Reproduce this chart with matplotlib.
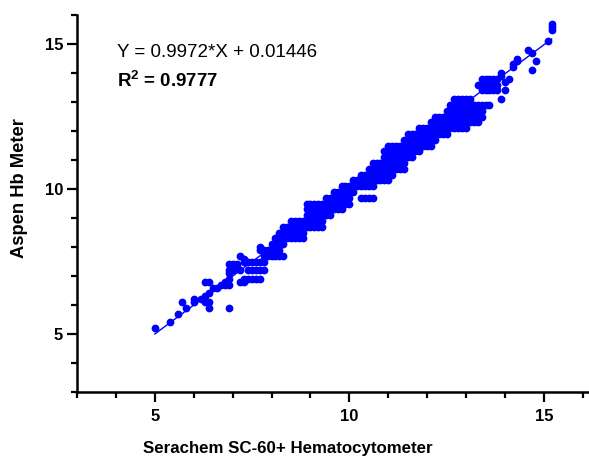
import matplotlib
matplotlib.use("Agg")
import matplotlib.pyplot as plt
from matplotlib.ticker import MultipleLocator

plt.rcParams["font.family"] = ["Liberation Sans", "DejaVu Sans"]
plt.rcParams["mathtext.fontset"] = "custom"
plt.rcParams["mathtext.rm"] = "Liberation Sans"
plt.rcParams["mathtext.bf"] = "Liberation Sans:bold"

# dense band, read row by row: (y value, x values on that row)
band_rows = [
    (7.5, [7.3, 7.4, 7.5, 7.6, 7.7, 7.8]),
    (7.7, [7.8, 7.9, 8.0, 8.1, 8.2, 8.3]),
    (7.9, [7.7, 7.8, 7.9, 8.0, 8.1, 8.2]),
    (8.1, [8.0, 8.1, 8.2, 8.3]),
    (8.3, [8.1, 8.2, 8.3, 8.4, 8.5, 8.6, 8.7, 8.8]),
    (8.5, [8.2, 8.3, 8.4, 8.5, 8.6, 8.7, 8.8]),
    (8.7, [8.3, 8.4, 8.5, 8.6, 8.7, 8.8, 8.9, 9.0, 9.1, 9.2, 9.3]),
    (8.9, [8.5, 8.6, 8.7, 8.8, 8.9, 9.0, 9.1, 9.2, 9.3]),
    (9.1, [8.9, 9.0, 9.1, 9.2, 9.3, 9.4, 9.5]),
    (9.3, [8.9, 9.0, 9.1, 9.2, 9.3, 9.4, 9.5, 9.6, 9.7, 9.8]),
    (9.5, [8.9, 9.0, 9.1, 9.2, 9.3, 9.4, 9.5, 9.6, 9.7, 9.8, 9.9, 10.0]),
    (9.7, [9.4, 9.5, 9.6, 9.7, 9.8, 9.9, 10.0, 10.3, 10.4, 10.5, 10.6]),
    (9.9, [9.6, 9.7, 9.8, 9.9, 10.0, 10.1]),
    (10.1, [9.8, 9.9, 10.0, 10.1, 10.2, 10.3, 10.4, 10.5, 10.6]),
    (10.3, [10.1, 10.2, 10.3, 10.4, 10.5, 10.6, 10.7, 10.8, 10.9, 11.0]),
    (10.5, [10.3, 10.4, 10.5, 10.6, 10.7, 10.8, 10.9, 11.0, 11.1]),
    (10.7, [10.5, 10.6, 10.7, 10.8, 10.9, 11.0, 11.1, 11.2, 11.3, 11.4]),
    (10.9, [10.6, 10.7, 10.8, 10.9, 11.0, 11.1, 11.2, 11.3, 11.4]),
    (11.1, [10.9, 11.0, 11.1, 11.2, 11.3, 11.4, 11.5, 11.6]),
    (11.3, [10.9, 11.0, 11.1, 11.2, 11.3, 11.4, 11.5, 11.6, 11.7, 11.8]),
    (11.5, [11.0, 11.1, 11.2, 11.3, 11.4, 11.5, 11.6, 11.7, 11.8, 11.9, 12.0, 12.1]),
    (11.7, [11.4, 11.5, 11.6, 11.7, 11.8, 11.9, 12.0, 12.1, 12.2]),
    (11.9, [11.5, 11.6, 11.7, 11.8, 11.9, 12.0, 12.1, 12.2, 12.3, 12.4, 12.5]),
    (12.1, [11.8, 11.9, 12.0, 12.1, 12.2, 12.3, 12.4, 12.5, 12.6, 12.7, 12.8, 12.9, 13.0]),
    (12.3, [12.1, 12.2, 12.3, 12.4, 12.5, 12.6, 12.7, 12.8, 12.9, 13.0, 13.1, 13.2, 13.3]),
    (12.5, [12.2, 12.3, 12.4, 12.5, 12.6, 12.7, 12.8, 12.9, 13.0, 13.1, 13.2, 13.3, 13.4]),
    (12.7, [12.5, 12.6, 12.7, 12.8, 12.9, 13.0, 13.1, 13.2, 13.3, 13.4]),
    (12.9, [12.6, 12.7, 12.8, 12.9, 13.0, 13.1, 13.2, 13.3, 13.4, 13.5, 13.6]),
    (13.1, [12.7, 12.8, 12.9, 13.0, 13.1]),
    (13.4, [13.4, 13.5, 13.6, 13.7, 13.8]),
    (13.6, [13.3, 13.4, 13.5, 13.6, 13.7, 13.8]),
    (13.8, [13.4, 13.5, 13.6, 13.7, 13.8]),
]

# scattered points at the low and high ends
low_x = [5.0, 5.4, 5.6, 5.7, 5.8, 6.0, 6.0, 6.2, 6.3, 6.4, 6.4, 6.9, 6.3, 6.4,
         6.3, 6.4, 6.5, 6.6, 6.7, 6.8, 6.9, 6.8, 6.9, 6.9, 6.9, 7.0, 6.9, 7.0,
         7.1, 7.2, 7.1, 7.2, 7.3, 7.7,
         7.4, 7.5, 7.6, 7.7, 7.8, 7.3, 7.4, 7.5, 7.6, 7.7, 7.2, 7.3]
low_y = [5.2, 5.4, 5.7, 6.1, 5.9, 6.2, 6.1, 6.2, 6.1, 6.1, 5.9, 5.9, 6.3, 6.4,
         6.8, 6.8, 6.6, 6.6, 6.7, 6.7, 6.7, 6.8, 6.9, 7.1, 7.2, 7.2, 7.4, 7.4,
         7.4, 7.7, 7.3, 7.2, 7.6, 8.0,
         7.2, 7.2, 7.2, 7.2, 7.2, 6.9, 6.9, 6.9, 6.9, 6.9, 6.8, 6.8]
high_x = [13.9, 13.9, 14.1, 14.0, 14.0, 13.9, 14.2, 14.2, 14.3, 14.3,
          14.6, 14.7, 14.8, 14.7, 15.1, 15.2, 15.2, 15.2]
high_y = [14.0, 13.9, 13.8, 13.7, 13.4, 13.1, 14.2, 14.3, 14.5, 14.4,
          14.8, 14.7, 14.4, 14.1, 15.1, 15.5, 15.6, 15.7]

slope = 0.9972
intercept = 0.01446
r2 = 0.9777

xs = list(low_x) + list(high_x)
ys = list(low_y) + list(high_y)
for yv, row in band_rows:
    xs += row
    ys += [yv] * len(row)

fig = plt.figure(figsize=(5.89, 4.57), dpi=100)
ax = fig.add_axes([77 / 589, 65 / 457, 512 / 589, 377 / 457])

blue = "#0000FF"
ax.plot(xs, ys, "o", color=blue, markersize=5.6, markeredgewidth=0)

x0, x1 = min(xs), max(xs)
ax.plot([x0, x1], [slope * x0 + intercept, slope * x1 + intercept],
        color=blue, linewidth=1.0)

ax.set_xlim(3, 16.16)
ax.set_ylim(3, 16)
ax.xaxis.set_major_locator(MultipleLocator(5))
ax.xaxis.set_minor_locator(MultipleLocator(1))
ax.yaxis.set_major_locator(MultipleLocator(5))
ax.yaxis.set_minor_locator(MultipleLocator(1))

for s in ["top", "right"]:
    ax.spines[s].set_visible(False)
for s in ["left", "bottom"]:
    ax.spines[s].set_linewidth(1.8)

ax.tick_params(which="major", direction="out", length=7, width=1.6,
               labelsize=12)
ax.tick_params(which="minor", direction="out", length=4.5, width=1.6)
ax.tick_params(axis="x", which="major", pad=5.5)
ax.tick_params(axis="y", which="major", pad=3)
for lab in ax.get_xticklabels() + ax.get_yticklabels():
    lab.set_fontweight("bold")

ax.text(4.03, 14.69, "Y = %.4f*X + %.5f" % (slope, intercept),
        fontsize=13.5, va="center", ha="left")
ax.text(4.03, 13.72, r"$\mathbf{R^2}$ = %.4f" % r2,
        fontsize=13.5, fontweight="bold", va="center", ha="left")

fig.text(288 / 589, 1 - 448 / 457, "Serachem SC-60+ Hematocytometer",
         fontsize=12.2, fontweight="bold", ha="center", va="center")
fig.text(20 / 589, 1 - 188 / 457, "Aspen Hb Meter",
         fontsize=13.2, fontweight="bold", ha="center", va="center",
         rotation=90)

fig.savefig("out.png", dpi=100)
